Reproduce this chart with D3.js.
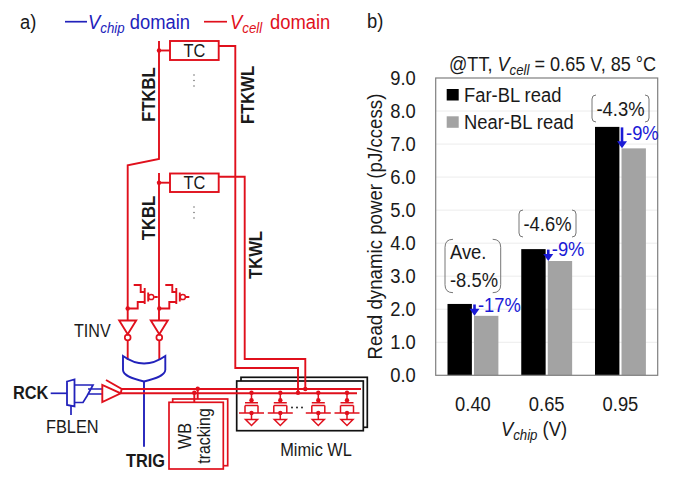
<!DOCTYPE html>
<html><head><meta charset="utf-8">
<script src="https://cdn.jsdelivr.net/npm/d3@7"></script>
<style>html,body{margin:0;padding:0;background:#fff}svg{display:block}text{font-family:"Liberation Sans",Arial,sans-serif}</style>
</head><body><svg id="c" width="680" height="484"></svg>
<script>
const categories = ["0.40","0.65","0.95"];
const farBL = [2.16,3.82,7.52];
const nearBL = [1.80,3.46,6.87];
const reductions = ["-17%","-9%","-9%"];
const yTicks = [0,1,2,3,4,5,6,7,8,9];
const seriesNames = ["Far-BL read","Near-BL read"];
const seriesColors = ["#000000","#a3a3a3"];
const averages = ["-4.6%","-4.3%"];

const RED="#e0101c", BLUE="#2222bb", TXT="#1a1a1a", ABLUE="#1a1ad6";
const svg=d3.select("#c");

/* ---------- panel b: bar chart ---------- */
const y=d3.scaleLinear().domain([0,9]).range([375.3,78]);
const x0=d3.scaleBand().domain(categories).range([435.7,657.7]).paddingInner(0.31).paddingOuter(0.16);
const x1=d3.scaleBand().domain([0,1]).range([0,x0.bandwidth()]).paddingInner(0.08);
const g=svg.append("g");
g.selectAll("line.grid").data(yTicks.filter(d=>d>0&&d<9)).join("line").attr("class","grid")
 .attr("x1",436).attr("x2",657).attr("y1",y).attr("y2",y).attr("stroke","#ececec").attr("stroke-width",1);
const yAxis=d3.axisLeft(y).tickValues(yTicks).tickSize(0).tickPadding(0).tickFormat(d3.format(".1f"));
const ya=g.append("g").attr("transform","translate(415.7,0)").call(yAxis);
ya.select(".domain").remove();
ya.selectAll("text").attr("font-size",18).attr("fill",TXT).attr("font-family","Liberation Sans");
const xAxis=d3.axisBottom(x0).tickSize(0).tickPadding(0);
const xa=g.append("g").attr("transform","translate(0,396)").call(xAxis);
xa.select(".domain").remove();
xa.selectAll("text").attr("font-size",18).attr("fill",TXT).attr("font-family","Liberation Sans");
[farBL,nearBL].forEach((vals,s)=>{
  g.selectAll("rect.s"+s).data(vals).join("rect").attr("class","s"+s)
   .attr("x",(d,i)=>x0(categories[i])+x1(s)).attr("width",x1.bandwidth())
   .attr("y",d=>y(d)).attr("height",d=>y(0)-y(d)).attr("fill",seriesColors[s]);
});
g.append("rect").attr("x",435.7).attr("y",78).attr("width",222).attr("height",297.3)
 .attr("fill","none").attr("stroke","#7f7f7f").attr("stroke-width",1.2);
/* legend */
seriesNames.forEach((n,i)=>{
  const by=[89,116.3][i];
  g.append("rect").attr("x",446.7).attr("y",by).attr("width",12).attr("height",11.5).attr("fill",seriesColors[i]);
  g.append("text").attr("x",464).attr("y",by+12.7).attr("font-size",18).attr("fill",TXT).text(n);
});
/* reduction arrows */
const arrowX=i=>x0(categories[i])+x1(1)+0.5;
categories.forEach((c,i)=>{
  const ax=arrowX(i), t=y(farBL[i]), b=y(nearBL[i]);
  g.append("line").attr("x1",ax).attr("x2",ax).attr("y1",t+0.5).attr("y2",b-5).attr("stroke",ABLUE).attr("stroke-width",2.6);
  g.append("path").attr("d",d3.line()([[ax-5,b-7],[ax+5,b-7],[ax,b]])).attr("fill",ABLUE);
  g.append("text").attr("x",ax+[3.5,3.5,4][i]).attr("y",[311.7,256,140][i]).attr("font-size",18)
   .attr("fill",ABLUE).text(reductions[i]);
});
/* bracket helper */
function bracket(x,yy,w,h,r){
  g.append("path").attr("fill","none").attr("stroke","#777").attr("stroke-width",1)
   .attr("d",`M${x+r},${yy}Q${x},${yy} ${x},${yy+r}V${yy+h-r}Q${x},${yy+h} ${x+r},${yy+h}`+
             `M${x+w-r},${yy}Q${x+w},${yy} ${x+w},${yy+r}V${yy+h-r}Q${x+w},${yy+h} ${x+w-r},${yy+h}`);
}
bracket(445,239.3,55.7,53.4,8);
bracket(519,210,57,27,4);
bracket(592,95,57,27,4);
g.append("text").attr("x",450).attr("y",259.3).attr("font-size",18).attr("fill",TXT).text("Ave.");
g.append("text").attr("x",450).attr("y",286.7).attr("font-size",18).attr("fill",TXT).text("-8.5%");
g.append("text").attr("x",547.5).attr("y",231).attr("text-anchor","middle").attr("font-size",18).attr("fill",TXT).text(averages[0]);
g.append("text").attr("x",620.5).attr("y",115.7).attr("text-anchor","middle").attr("font-size",18).attr("fill",TXT).text(averages[1]);
/* titles */
function rich(parent,x,yy,parts,attrs){
  const t=parent.append("text").attr("x",x).attr("y",yy);
  Object.entries(attrs||{}).forEach(([k,v])=>t.attr(k,v));
  parts.forEach(p=>{
    const s=t.append("tspan").text(p.t);
    if(p.i)s.attr("font-style","italic");
    if(p.sub)s.attr("font-size",p.sub).attr("dy",4);
    if(p.up)s.attr("dy",-4);
    if(p.dx)s.attr("dx",p.dx);
  });
  return t;
}
rich(g,449,70.7,[{t:"@TT, "},{t:"V",i:1},{t:"cell",i:1,sub:13},{t:" = 0.65 V, 85 °C",up:1}],{"font-size":17.7,fill:TXT});
rich(g,534,436,[{t:"V",i:1},{t:"chip",i:1,sub:13},{t:" (V)",up:1}],{"font-size":18,fill:TXT,"text-anchor":"middle"});
g.append("text").attr("transform","translate(382,226.5) rotate(-90)").attr("text-anchor","middle")
 .attr("font-size",18.3).attr("fill",TXT).text("Read dynamic power (pJ/ccess)");
g.append("text").attr("x",367).attr("y",28).attr("font-size",18).attr("fill",TXT).text("b)");

/* ---------- panel a: schematic ---------- */
const a=svg.append("g").attr("fill","none").attr("stroke-linejoin","miter");
const wire=(d,c=RED,w=1.9)=>a.append("path").attr("d",d).attr("stroke",c).attr("stroke-width",w);
const dot=(cx,cy,r=2.2,c=RED)=>a.append("circle").attr("cx",cx).attr("cy",cy).attr("r",r).attr("fill",c);
const lab=(x,yy,s,o={})=>{const t=a.append("text").attr("x",x).attr("y",yy).attr("fill",o.fill||TXT).attr("font-size",o.size||16.5).text(s);
  if(o.bold)t.attr("font-weight","bold"); if(o.anchor)t.attr("text-anchor",o.anchor); return t;};
const rot=(cx,cy,s,o={})=>{const t=a.append("text").attr("transform",`translate(${cx},${cy}) rotate(-90)`).attr("text-anchor","middle")
  .attr("fill",TXT).attr("font-size",o.size||16).text(s); if(o.bold)t.attr("font-weight","bold"); return t;};

lab(20,29,"a)",{size:18});
wire("M65,21.7H87",BLUE,1.7); wire("M204,21.7H227",RED,1.7);
rich(a,88,29,[{t:"V",i:1},{t:"chip",i:1,sub:13},{t:" domain",up:1}],{"font-size":18,fill:BLUE});
rich(a,230,29,[{t:"V",i:1},{t:"cell",i:1,sub:13},{t:"  domain",up:1,dx:3}],{"font-size":18,fill:RED});

/* TC cells */
[[41,60,50.5],[173.5,192,182.7]].forEach(([t,b,m])=>{
  a.append("rect").attr("x",170).attr("y",t).attr("width",48.7).attr("height",b-t).attr("stroke",RED).attr("stroke-width",1.9).attr("fill","#fff");
  wire(`M159,${m}H170`); dot(159,m);
  lab(194.3,b-2.7,"TC",{anchor:"middle",size:16});
});
[[75,86],[207,218]].forEach(([s,e])=>{for(let k=0;k<3;k++)dot(194,s+k*(e-s)/2,0.7,"#555");});
wire("M159,41V159L127.7,165.3V320");
wire("M159,173V320");
wire("M218.7,46H235.3V368H298V392.7");
wire("M218.7,176.7H244.7V359H305.3V389");
dot(298,392.7); dot(305.3,389);
rot(155,94.5,"FTKBL",{bold:1,size:16.3}); rot(253.5,95,"FTKWL",{bold:1,size:16.3});
rot(155,218,"TKBL",{bold:1,size:16.3}); rot(262,255,"TKWL",{bold:1,size:16.3});

/* keepers + inverters */
[127.7,159.3].forEach(cx=>{
  dot(cx,308.5);
  wire(`M${cx},308.5H${cx+10}V302H${cx+17}M${cx+17},288V304M${cx+6},285H${cx+13}V292H${cx+17}M${cx+20.5},292.5V301.5M${cx+26.5},297H${cx+30}`);
  a.append("circle").attr("cx",cx+23.5).attr("cy",297).attr("r",2.6).attr("stroke",RED).attr("stroke-width",1.5);
  a.append("path").attr("d",`M${cx-8.5},320.5H${cx+8.5}L${cx},334.3Z`).attr("stroke",RED).attr("stroke-width",1.9);
  a.append("circle").attr("cx",cx).attr("cy",337.5).attr("r",2.9).attr("stroke",RED).attr("stroke-width",1.7);
  wire(`M${cx},340.5V360`);
});
lab(74,336.5,"TINV",{size:15.8});
/* OR gate */
wire("M123,356Q144,371 165.3,356V370C165,376 154,379 144,381.5C134,379 123,376 123,370Z",BLUE,1.9);
wire("M144,381V446.7",BLUE,1.9);
lab(126,466.7,"TRIG",{bold:1,size:16});
/* clock path */
lab(13,399,"RCK",{bold:1,size:16});
lab(46,432.7,"FBLEN",{size:16});
wire("M50.7,393.3H67",BLUE,1.7);
wire("M67,381.5L74.5,379.5V406.5L67,405Z",BLUE,1.8);
wire("M71,406V415M74.5,385H93L87,396L83,402.5H74.5M88,389H102M88,394H102",BLUE,1.7);
wire("M102.3,385V402L120.7,393.3ZM106,380L121.7,389L120.7,393.3");
wire("M121,389H361M120.5,393.3H357");
/* WB tracking */
a.append("rect").attr("x",172.7).attr("y",399).attr("width",55).attr("height",66.7).attr("stroke",RED).attr("stroke-width",1.7).attr("fill","#fff");
a.append("rect").attr("x",169).attr("y",402.3).attr("width",54.3).attr("height",66.7).attr("stroke",RED).attr("stroke-width",1.7).attr("fill","#fff");
wire("M197.7,388.7V399M194.3,392.7V402");
dot(197.7,388.7); dot(194.3,392.7);
rot(191,436,"WB",{size:16}); rot(209.5,436,"tracking",{size:15.5});
/* Mimic WL */
a.insert("rect",":first-child").attr("x",241).attr("y",377.3).attr("width",126.3).attr("height",50).attr("stroke","#111").attr("stroke-width",1.7).attr("fill","#fff");
a.insert("rect",":nth-child(2)").attr("x",236.7).attr("y",381).attr("width",126.6).attr("height",49.7).attr("stroke","#111").attr("stroke-width",1.7).attr("fill","#fff");
[251.5,280.3,318.3,347].forEach(cx=>{
  dot(cx,392.7); dot(cx,400.3);
  wire(`M${cx},392.7V400.3M${cx-6.5},402.7H${cx+6.5}M${cx-6.5},405.5H${cx+6.5}M${cx-6.5},405.5V413M${cx+6.5},405.5V413M${cx-12.5},413H${cx+12.5}M${cx},413V419`,RED,1.5);
  dot(cx,413);
  wire(`M${cx-6},419.5H${cx+6}L${cx},425.5Z`,RED,1.5);
});
[292,297,302].forEach(px=>dot(px,407.5,0.9,"#111"));
lab(316,455.7,"Mimic WL",{anchor:"middle",size:16});

/* the source lettering is tall and narrow: condense all text horizontally */
const TALL=1.135, NARROW=0.9;
svg.selectAll("text").each(function(){
  const t=d3.select(this);
  t.attr("font-size",+t.attr("font-size")*TALL);
  t.selectAll("tspan[font-size]").each(function(){const s=d3.select(this);s.attr("font-size",+s.attr("font-size")*TALL);});
  const px=+t.attr("x")||0, py=+t.attr("y")||0;
  t.attr("x",null).attr("y",null);
  t.attr("transform",`${t.attr("transform")||""} translate(${px},${py}) scale(${NARROW},1)`);
});
</script></body></html>
